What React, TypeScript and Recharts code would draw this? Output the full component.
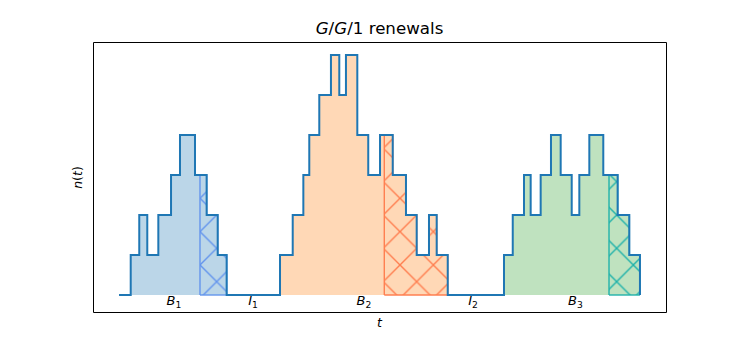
import React from 'react';
import { ComposedChart, XAxis, YAxis, Area, Line, ReferenceArea, ReferenceLine, ReferenceDot } from 'recharts';

// Step times (t) and queue length n(t) just after each step
const stepTimes = [
  1.12, 1.94, 2.71, 3.77, 4.99, 5.85, 7.29, 8.41, 9.47, 10.33,
  15.45, 16.67, 17.69, 18.26, 19.22, 20.34, 21.14, 21.78, 22.87, 23.92, 25.05, 26.27, 27.54, 28.57, 29.75, 30.49, 31.55,
  36.95, 37.79, 38.87, 39.51, 40.47, 41.46, 42.39, 43.45, 44.18, 45.14, 46.48, 47.86, 48.98, 50.0,
];
const stepCounts = [
  1, 2, 1, 2, 3, 4, 3, 2, 1, 0,
  1, 2, 3, 4, 5, 6, 5, 6, 4, 3, 4, 3, 2, 1, 2, 1, 0,
  1, 2, 3, 2, 3, 4, 3, 2, 3, 4, 3, 2, 1, 0,
];
const startTime = 0;
const busyStarts = [1.12, 15.45, 36.95];
const busyEnds = [10.33, 31.55, 50.0];
const hatchStarts = [7.77, 25.46, 47.03];

const busyColors = ['#1f77b4', '#ff7f0e', '#2ca02c'];
const hatchColors = ['#6495ED', '#FF7F50', '#20B2AA'];

const labelNames = ['B', 'I', 'B', 'I', 'B'];
const labelSubs = ['1', '1', '2', '2', '3'];
const labelTimes = [5.27, 12.86, 23.51, 33.98, 43.81];
const labelY = -0.25;

const X_DOMAIN = [-2.5, 52.5];
const Y_DOMAIN = [-0.425, 6.325];
const FRAME_X = [-2.452, 52.548];
const FRAME_Y = [-0.4375, 6.3125];

function countAt(t: number): number {
  let c = 0;
  for (let i = 0; i < stepTimes.length; i++) {
    if (stepTimes[i] <= t + 1e-9) c = stepCounts[i];
  }
  return c;
}

function makeRow(t: number, hatchZero: number) {
  const n = countAt(t);
  const row: any = { t, n };
  for (let k = 0; k < 3; k++) {
    row['b' + k] = t >= busyStarts[k] - 1e-9 && t <= busyEnds[k] + 1e-9 ? n : null;
    if (k === hatchZero) row['h' + k] = 0;
    else row['h' + k] = t >= hatchStarts[k] - 1e-9 && t <= busyEnds[k] + 1e-9 ? n : null;
  }
  return row;
}

const times = [startTime, ...stepTimes, ...hatchStarts].sort((a, b) => a - b);
const rows: any[] = [];
times.forEach((t) => {
  const hk = hatchStarts.indexOf(t);
  if (hk >= 0) rows.push(makeRow(t, hk));
  rows.push(makeRow(t, -1));
});

const FONT = 'DejaVu Sans';
const S = 100 / 3;

export default function App() {
  return (
    <div style={{ position: 'absolute', left: 0, top: 0, width: 740, height: 350, background: '#fff' }}>
      <ComposedChart width={740} height={350} data={rows} margin={{ top: 42, right: 74, bottom: 38, left: 93 }}>
        <defs>
          {hatchColors.map((c, i) => (
            <pattern key={i} id={'hatch' + i} patternUnits="userSpaceOnUse" width={S} height={S} x={0} y={-1.7}>
              <path d={`M-4,-4 L${S + 4},${S + 4} M-4,${S + 4} L${S + 4},-4`} stroke={c} strokeWidth={1.4} fill="none" />
            </pattern>
          ))}
        </defs>
        <XAxis dataKey="t" type="number" domain={X_DOMAIN} hide allowDataOverflow />
        <YAxis type="number" domain={Y_DOMAIN} hide allowDataOverflow />
        {[0, 1, 2].map((k) => (
          <Area
            key={'b' + k}
            dataKey={'b' + k}
            type="stepAfter"
            fill={busyColors[k]}
            fillOpacity={0.3}
            stroke="none"
            baseValue={0}
            connectNulls={false}
            dot={false}
            activeDot={false}
            isAnimationActive={false}
          />
        ))}
        {[0, 1, 2].map((k) => (
          <Area
            key={'h' + k}
            dataKey={'h' + k}
            type="stepAfter"
            fill={`url(#hatch${k})`}
            fillOpacity={1}
            stroke={hatchColors[k]}
            strokeWidth={1.4}
            baseValue={0}
            connectNulls={false}
            dot={false}
            activeDot={false}
            isAnimationActive={false}
          />
        ))}
        {[0, 1, 2].map((k) => (
          <ReferenceLine
            key={'hl' + k}
            segment={[{ x: hatchStarts[k], y: 0 }, { x: busyEnds[k], y: 0 }]}
            stroke={hatchColors[k]}
            strokeWidth={1.4}
          />
        ))}
        <Line
          dataKey="n"
          type="stepAfter"
          stroke="#1f77b4"
          strokeWidth={2}
          dot={false}
          activeDot={false}
          isAnimationActive={false}
        />
        <ReferenceArea
          x1={FRAME_X[0]}
          x2={FRAME_X[1]}
          y1={FRAME_Y[0]}
          y2={FRAME_Y[1]}
          fill="none"
          fillOpacity={0}
          stroke="#000"
          strokeWidth={1}
          ifOverflow="visible"
        />
        {labelTimes.map((t, i) => (
          <ReferenceDot
            key={'lab' + i}
            x={t}
            y={labelY}
            r={0}
            ifOverflow="visible"
            shape={(p: any) => (
              <text x={p.cx} y={p.cy} textAnchor="middle" fontFamily={FONT} fontSize={13} fill="#000">
                <tspan fontStyle="italic">{labelNames[i]}</tspan>
                <tspan fontSize={9.2} dy={2.6}>{labelSubs[i]}</tspan>
              </text>
            )}
          />
        ))}
        <text x={379.5} y={34} textAnchor="middle" fontFamily={FONT} fontSize={16.67} fill="#000">
          <tspan fontStyle="italic">G</tspan>
          <tspan>/</tspan>
          <tspan fontStyle="italic">G</tspan>
          <tspan>/1 renewals</tspan>
        </text>
        <text x={379.5} y={327} textAnchor="middle" fontFamily={FONT} fontSize={12.5} fill="#000" fontStyle="italic">
          t
        </text>
        <text x={82} y={177.5} transform="rotate(-90, 82, 177.5)" textAnchor="middle" fontFamily={FONT} fontSize={12.5} fill="#000">
          <tspan fontStyle="italic">n</tspan>
          <tspan>(</tspan>
          <tspan fontStyle="italic">t</tspan>
          <tspan>)</tspan>
        </text>
      </ComposedChart>
    </div>
  );
}
